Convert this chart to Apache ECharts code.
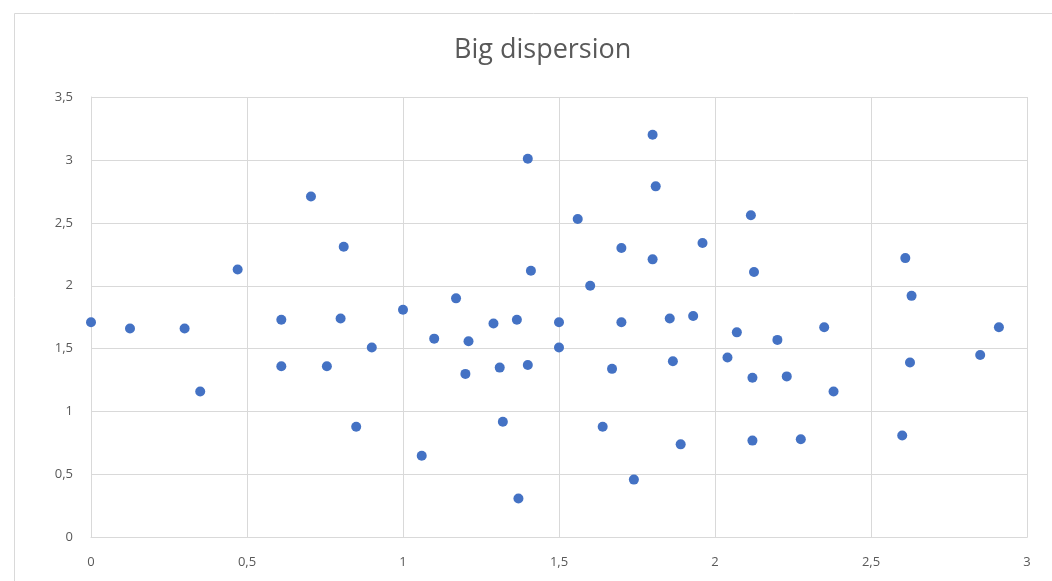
<!DOCTYPE html>
<html>
<head>
<meta charset="utf-8">
<script src="https://cdn.jsdelivr.net/npm/echarts@6/dist/echarts.min.js"></script>
<style>html,body{margin:0;padding:0;background:#fff;}#c{width:1052px;height:581px;}</style>
</head>
<body>
<div id="c"></div>
<script>
const title = "Big dispersion";
const xTicks = [0, 0.5, 1, 1.5, 2, 2.5, 3];
const yTicks = [0, 0.5, 1, 1.5, 2, 2.5, 3, 3.5];
const xValues = [0, 0.125, 0.30, 0.35, 0.47, 0.61, 0.61, 0.705, 0.756, 0.80, 0.81, 0.85, 0.90, 1.0, 1.06, 1.10, 1.17, 1.20, 1.21, 1.29, 1.31, 1.32, 1.365, 1.37, 1.40, 1.40, 1.41, 1.50, 1.50, 1.56, 1.60, 1.64, 1.67, 1.70, 1.70, 1.74, 1.80, 1.80, 1.81, 1.855, 1.865, 1.89, 1.93, 1.96, 2.04, 2.07, 2.115, 2.12, 2.12, 2.125, 2.20, 2.23, 2.275, 2.35, 2.38, 2.60, 2.61, 2.625, 2.63, 2.85, 2.91];
const yValues = [1.71, 1.66, 1.66, 1.16, 2.13, 1.73, 1.36, 2.71, 1.36, 1.74, 2.31, 0.88, 1.51, 1.81, 0.65, 1.58, 1.90, 1.30, 1.56, 1.70, 1.35, 0.92, 1.73, 0.31, 1.37, 3.01, 2.12, 1.71, 1.51, 2.53, 2.00, 0.88, 1.34, 2.30, 1.71, 0.46, 2.21, 3.20, 2.79, 1.74, 1.40, 0.74, 1.76, 2.34, 1.43, 1.63, 2.56, 1.27, 0.77, 2.11, 1.57, 1.28, 0.78, 1.67, 1.16, 0.81, 2.22, 1.39, 1.92, 1.45, 1.67];

const points = xValues.map((x, i) => [x, yValues[i]]);
const fmt = v => String(v).replace('.', ',');
const gridColor = '#d9d9d9';
const labelColor = '#595959';
const fontFamily = '"Open Sans", "Noto Sans", sans-serif';

const chart = echarts.init(document.getElementById('c'), null, {renderer: 'canvas'});
chart.setOption({
  backgroundColor: '#fff',
  animation: false,
  graphic: [{
    type: 'rect',
    shape: {x: 14.5, y: 13.5, width: 1060, height: 600},
    style: {fill: 'none', stroke: '#d9d9d9', lineWidth: 1},
    silent: true
  }],
  title: {
    text: title,
    left: 454,
    top: 37,
    padding: 0,
    textStyle: {color: labelColor, fontSize: 27, fontWeight: 'normal', fontFamily: fontFamily}
  },
  grid: {left: 91, right: 25, top: 97, bottom: 43.5, containLabel: false},
  xAxis: {
    type: 'value',
    min: xTicks[0],
    max: xTicks[xTicks.length - 1],
    interval: 0.5,
    axisLine: {show: true, lineStyle: {color: gridColor, width: 1}},
    axisTick: {show: false},
    splitLine: {show: true, lineStyle: {color: gridColor, width: 1}},
    axisLabel: {color: labelColor, fontSize: 13, fontFamily: fontFamily, margin: 18, formatter: fmt}
  },
  yAxis: {
    type: 'value',
    min: yTicks[0],
    max: yTicks[yTicks.length - 1],
    interval: 0.5,
    axisLine: {show: true, lineStyle: {color: gridColor, width: 1}},
    axisTick: {show: false},
    splitLine: {show: true, lineStyle: {color: gridColor, width: 1}},
    axisLabel: {color: labelColor, fontSize: 13, fontFamily: fontFamily, margin: 18, formatter: fmt}
  },
  series: [{
    type: 'scatter',
    data: points,
    symbol: 'circle',
    symbolSize: 10,
    itemStyle: {color: '#4472C4', opacity: 1}
  }]
});
</script>
</body>
</html>
